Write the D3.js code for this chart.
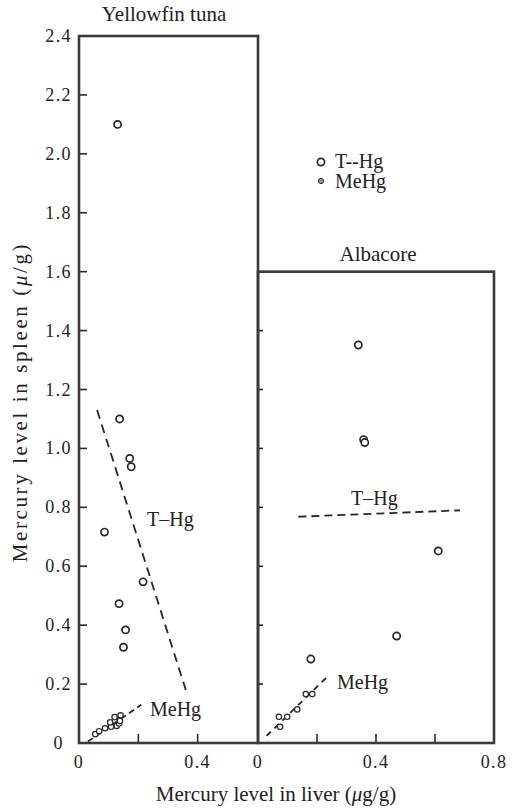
<!DOCTYPE html>
<html><head><meta charset="utf-8">
<script src="https://cdn.jsdelivr.net/npm/d3@7"></script>
<style>
html,body{margin:0;padding:0;background:#fff;}
svg text{font-family:"Liberation Serif","Times New Roman",Tinos,"DejaVu Serif","Noto Serif",Times,serif;fill:#222;}
</style></head>
<body><svg id="c" width="512" height="811"></svg>
<script>
// ---- data ----
const yellowfinTHgX = [0.13, 0.137, 0.171, 0.176, 0.086, 0.216, 0.135, 0.157, 0.150];
const yellowfinTHgY = [2.10, 1.10, 0.966, 0.938, 0.716, 0.547, 0.473, 0.384, 0.325];
const yellowfinMeHgX = [0.055, 0.068, 0.088, 0.108, 0.105, 0.12, 0.127, 0.135, 0.14, 0.138];
const yellowfinMeHgY = [0.030, 0.040, 0.050, 0.055, 0.070, 0.088, 0.058, 0.066, 0.094, 0.075];
const albacoreTHgX = [0.34, 0.358, 0.362, 0.611, 0.47, 0.179];
const albacoreTHgY = [1.351, 1.03, 1.02, 0.652, 0.363, 0.285];
const albacoreMeHgX = [0.071, 0.099, 0.075, 0.133, 0.162, 0.184];
const albacoreMeHgY = [0.089, 0.089, 0.055, 0.114, 0.166, 0.166];
// regression lines (endpoints)
const yellowfinTHgLine = [[0.061, 1.13], [0.36, 0.18]];
const yellowfinMeHgLine = [[0.03, 0.005], [0.21, 0.13]];
const albacoreTHgLine = [[0.137, 0.768], [0.685, 0.79]];
const albacoreMeHgLine = [[0.029, 0.024], [0.241, 0.231]];
const yTickValues = [0, 0.2, 0.4, 0.6, 0.8, 1.0, 1.2, 1.4, 1.6, 1.8, 2.0, 2.2, 2.4];
const yTickLabels = ["0", "0.2", "0.4", "0.6", "0.8", "1.0", "1.2", "1.4", "1.6", "1.8", "2.0", "2.2", "2.4"];
const xTicksLeft = [0, 0.4];
const xTicksLeftLabels = ["0", "0.4"];
const xTicksRight = [0, 0.4, 0.8];
const xTicksRightLabels = ["0", "0.4", "0.8"];
const legendLabels = ["T--Hg", "MeHg"];

const svg = d3.select("#c");
const y = d3.scaleLinear().domain([0, 2.4]).range([743, 36]);
const xL = d3.scaleLinear().domain([0, 0.6034]).range([79, 258]);
const xR = d3.scaleLinear().domain([0, 0.8]).range([258, 494]);
const ink = "#262626";
const FONT = "'Liberation Serif','Times New Roman',Tinos,'DejaVu Serif','Noto Serif',serif";

function panel(x, yTop, yTicks, tickLen, xTicks) {
  const g = svg.append("g");
  g.selectAll(".yt").data(yTicks).enter().append("line")
    .attr("x1", x.range()[0]).attr("x2", x.range()[0] + tickLen)
    .attr("y1", d => y(d)).attr("y2", d => y(d))
    .attr("stroke", ink).attr("stroke-width", 1.6);
  g.selectAll(".xt").data(xTicks).enter().append("line")
    .attr("x1", d => x(d)).attr("x2", d => x(d))
    .attr("y1", y(0)).attr("y2", y(0) - 9)
    .attr("stroke", ink).attr("stroke-width", 1.6);
  g.append("rect")
    .attr("x", x.range()[0]).attr("y", y(yTop))
    .attr("width", x.range()[1] - x.range()[0])
    .attr("height", y(0) - y(yTop))
    .attr("fill", "none").attr("stroke", "#3a3a3a").attr("stroke-width", 2.6);
  return g;
}

panel(xL, 2.4, d3.range(1, 12).map(i => i * 0.2), 8, [0.2, 0.4]);
panel(xR, 1.6, d3.range(1, 8).map(i => i * 0.2), 5, [0.2, 0.4, 0.6]);

function txt(sel) { return sel.attr("font-family", FONT); }

// y tick labels
txt(svg.selectAll(".ylab").data(yTickValues).enter().append("text"))
  .attr("x", (d, i) => i === 0 ? 64 : 72)
  .attr("y", d => y(d) + 6)
  .attr("text-anchor", "end")
  .attr("font-size", 18).attr("letter-spacing", 1.4)
  .text((d, i) => yTickLabels[i]);

function xLabels(x, vals, labels) {
  txt(svg.selectAll(null).data(vals).enter().append("text"))
    .attr("x", d => x(d)).attr("y", 768)
    .attr("text-anchor", "middle")
    .attr("font-size", 18).attr("letter-spacing", 1.4)
    .text((d, i) => labels[i]);
}
xLabels(xL, xTicksLeft, xTicksLeftLabels);
xLabels(xR, xTicksRight, xTicksRightLabels);

const line = (x) => d3.line().x(d => x(d[0])).y(d => y(d[1]));
svg.append("path").attr("d", line(xL)(yellowfinTHgLine)).attr("fill", "none")
  .attr("stroke", ink).attr("stroke-width", 1.8).attr("stroke-dasharray", "9,6");
svg.append("path").attr("d", line(xL)(yellowfinMeHgLine)).attr("fill", "none")
  .attr("stroke", ink).attr("stroke-width", 1.8).attr("stroke-dasharray", "6,4");
svg.append("path").attr("d", line(xR)(albacoreTHgLine)).attr("fill", "none")
  .attr("stroke", ink).attr("stroke-width", 1.8).attr("stroke-dasharray", "8,5");
svg.append("path").attr("d", line(xR)(albacoreMeHgLine)).attr("fill", "none")
  .attr("stroke", ink).attr("stroke-width", 1.8).attr("stroke-dasharray", "6,5");

function tPoints(x, xs, ys) {
  svg.selectAll(null).data(xs).enter().append("circle")
    .attr("cx", d => x(d)).attr("cy", (d, i) => y(ys[i])).attr("r", 3.6)
    .attr("fill", "#fff").attr("stroke", ink).attr("stroke-width", 1.7);
}
function mPoints(x, xs, ys) {
  svg.selectAll(null).data(xs).enter().append("circle")
    .attr("cx", d => x(d)).attr("cy", (d, i) => y(ys[i])).attr("r", 2.7)
    .attr("fill", "#fff").attr("stroke", ink).attr("stroke-width", 1.2);
}
tPoints(xL, yellowfinTHgX, yellowfinTHgY);
mPoints(xL, yellowfinMeHgX, yellowfinMeHgY);
tPoints(xR, albacoreTHgX, albacoreTHgY);
mPoints(xR, albacoreMeHgX, albacoreMeHgY);

const lab = (x, yy, t) => txt(svg.append("text")).attr("x", x).attr("y", yy).attr("font-size", 20).text(t);
lab(147, 526, "T–Hg");
lab(150, 716, "MeHg");
lab(351, 505, "T–Hg");
lab(337, 689, "MeHg");

txt(svg.append("text")).attr("x", 164).attr("y", 21).attr("text-anchor", "middle").attr("font-size", 21).text("Yellowfin tuna");
txt(svg.append("text")).attr("x", 378).attr("y", 261).attr("text-anchor", "middle").attr("font-size", 21).text("Albacore");

svg.append("circle").attr("cx", 321).attr("cy", 162).attr("r", 3.6)
  .attr("fill", "#fff").attr("stroke", ink).attr("stroke-width", 1.7);
svg.append("circle").attr("cx", 321).attr("cy", 181).attr("r", 2.6)
  .attr("fill", "#999").attr("stroke", ink).attr("stroke-width", 1);
txt(svg.append("text")).attr("x", 335).attr("y", 168).attr("font-size", 20).text(legendLabels[0]);
txt(svg.append("text")).attr("x", 335).attr("y", 188).attr("font-size", 20).text(legendLabels[1]);

const xt = txt(svg.append("text")).attr("x", 276).attr("y", 801).attr("text-anchor", "middle").attr("font-size", 21);
xt.append("tspan").text("Mercury level in liver (");
xt.append("tspan").attr("font-style", "italic").text("μ");
xt.append("tspan").text("g/g)");
const yt = txt(svg.append("text")).attr("transform", "translate(27,402) rotate(-90)").attr("text-anchor", "middle")
  .attr("font-size", 21).attr("letter-spacing", 2.6);
yt.append("tspan").text("Mercury level in spleen (");
yt.append("tspan").attr("font-style", "italic").text("μ");
yt.append("tspan").text("/g)");
</script></body></html>
